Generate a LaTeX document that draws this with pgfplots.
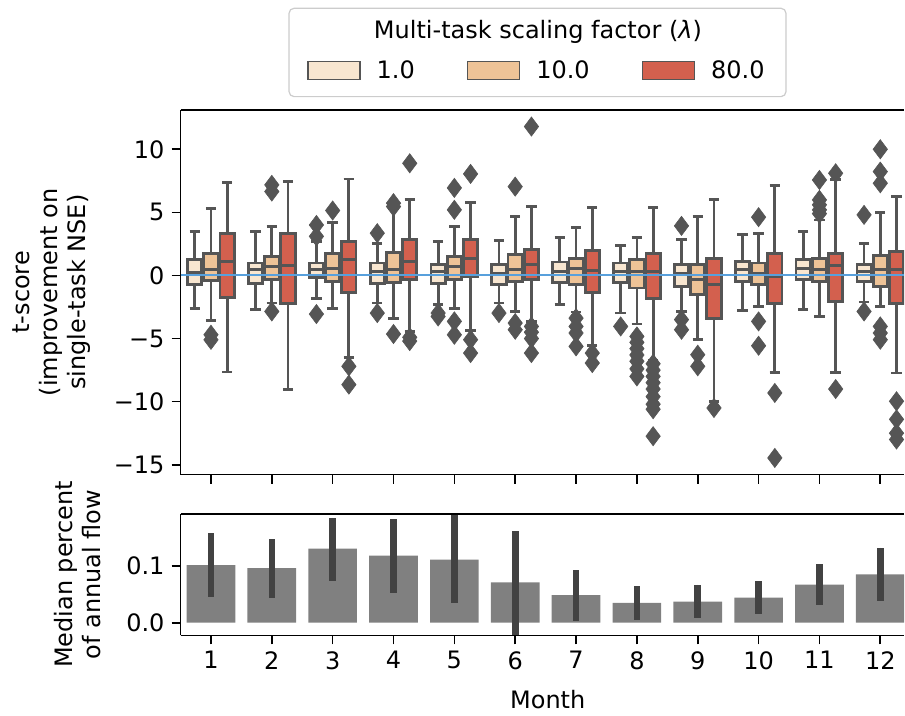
\documentclass[border=0pt]{standalone}
\usepackage{fontspec}
\setmainfont{DejaVu Sans}
\usepackage{pgfplots}
\usepackage{pgfplotstable}
\pgfplotsset{compat=1.18}
\usepgfplotslibrary{statistics}
\definecolor{ca}{HTML}{F8E6D0}
\definecolor{cb}{HTML}{EEC397}
\definecolor{cc}{HTML}{D3604E}
\definecolor{bxgray}{HTML}{555555}
\definecolor{zeroblue}{RGB}{88,160,220}
\definecolor{barg}{HTML}{808080}
\definecolor{errg}{HTML}{424242}
\pgfplotsset{
  bxstyle/.style={draw=bxgray, line width=1.4pt, mark=diamond*, mark size=4.8pt,
    mark options={fill=bxgray, draw=bxgray, line width=0.3pt, solid},
    boxplot/draw direction=y,
    boxplot/box extend=0.235, boxplot/whisker extend=0.17},
  common/.style={scale only axis, width=362.15pt, xmin=0.5, xmax=12.393,
    axis y line*=left, axis x line*=bottom,
    axis line style={line width=0.8pt, -}, tick style={line width=0.8pt, black},
    major tick length=4.5pt, tick align=outside, xtick pos=bottom, ytick pos=left,
    xtick={1,2,3,4,5,6,7,8,9,10,11,12}, clip mode=individual}
}
\newcommand{\bx}[8]{\addplot[forget plot, bxstyle, fill=#7, boxplot prepared={draw position=#1, lower whisker=#2, lower quartile=#3, median=#4, upper quartile=#5, upper whisker=#6}] coordinates {#8};}
\pgfplotstableread{
m v ep em
1 0.101 0.056 0.055
2 0.096 0.051 0.052
3 0.130 0.054 0.056
4 0.118 0.064 0.065
5 0.111 0.080 0.077
6 0.071 0.090 0.0933
7 0.0485 0.0435 0.045
8 0.035 0.029 0.030
9 0.037 0.030 0.0294
10 0.044 0.0285 0.029
11 0.067 0.036 0.035
12 0.085 0.047 0.046
}\flowdata
\begin{document}
\begin{tikzpicture}[font=\fontsize{12}{14}\selectfont]
\path (0,0) rectangle (452.5pt,357.5pt);
\draw[draw=black!20, line width=0.6pt, fill=white, rounded corners=2.5pt] (144.65pt,309.15pt) rectangle (393.35pt,353.35pt);
\node[anchor=base] at (269.2pt,338.35pt) {Multi-task scaling factor ({\itshape λ})};
\begin{axis}[common, at={(90.35pt,120pt)}, anchor=south west, height=182.5pt,
  ymin=-15.78, ymax=13.12,
  ytick={-15,-10,-5,0,5,10}, yticklabels={−15,−10,−5,0,5,10},
  xticklabels={},
  ylabel={t-score\\(improvement on\\single-task NSE)},
  ylabel style={at={(axis description cs:-0.1785,0.5)}, anchor=center, align=center},
  legend columns=3,
  legend style={at={(0.4938,1.1077)}, anchor=center, draw=none, fill=none,
    /tikz/every odd column/.append style={column sep=6pt},
    /tikz/every even column/.append style={column sep=24pt}},
  legend cell align=left]
\addlegendimage{legend image code/.code={\draw[fill=ca,draw=bxgray,line width=0.8pt] (0pt,-4.5pt) rectangle (26pt,4.5pt);}}
\addlegendentry{1.0}
\addlegendimage{legend image code/.code={\draw[fill=cb,draw=bxgray,line width=0.8pt] (0pt,-4.5pt) rectangle (26pt,4.5pt);}}
\addlegendentry{10.0}
\addlegendimage{legend image code/.code={\draw[fill=cc,draw=bxgray,line width=0.8pt] (0pt,-4.5pt) rectangle (26pt,4.5pt);}}
\addlegendentry{80.0}
% month 1
\bx{0.7333}{-2.59}{-0.69}{0.24}{1.24}{3.48}{ca}{}
\bx{1}{-3.59}{-0.42}{0.45}{1.77}{5.28}{cb}{(0,-4.7)(0,-5.1)}
\bx{1.2667}{-7.65}{-1.72}{1.11}{3.30}{7.39}{cc}{}
% month 2
\bx{1.7333}{-2.72}{-0.61}{0.45}{0.98}{3.48}{ca}{}
\bx{2}{-2.19}{-0.34}{0.71}{1.50}{3.88}{cb}{(0,7.18)(0,6.65)(0,-2.85)}
\bx{2.2667}{-9.05}{-2.24}{0.77}{3.30}{7.44}{cc}{}
% month 3
\bx{2.7333}{-1.85}{-0.16}{0.45}{0.98}{2.69}{ca}{(0,3.1)(0,4.0)(0,-3.06)}
\bx{3}{-2.59}{-0.47}{0.58}{1.77}{4.22}{cb}{(0,5.15)}
\bx{3.2667}{-6.49}{-1.32}{1.24}{2.69}{7.65}{cc}{(0,-7.2)(0,-8.65)}
% month 4
\bx{3.7333}{-2.19}{-0.61}{0.32}{0.98}{2.56}{ca}{(0,3.35)(0,-2.98)}
\bx{4}{-3.43}{-0.53}{0.45}{1.82}{5.33}{cb}{(0,5.73)(0,5.46)(0,-4.64)}
\bx{4.2667}{-4.43}{-0.34}{1.11}{2.82}{5.99}{cc}{(0,8.89)(0,-4.9)(0,-5.2)}
% month 5
\bx{4.7333}{-2.32}{-0.61}{0.32}{0.84}{2.69}{ca}{(0,-2.98)(0,-3.25)}
\bx{5}{-2.59}{-0.34}{0.71}{1.50}{3.88}{cb}{(0,6.94)(0,5.2)(0,-3.64)(0,-4.7)}
\bx{5.2667}{-4.38}{-0.08}{1.32}{2.88}{5.8}{cc}{(0,8.05)(0,-5.09)(0,-6.15)}
% month 6
\bx{5.7333}{-2.19}{-0.69}{0.18}{0.84}{2.77}{ca}{(0,-2.98)}
\bx{6}{-2.85}{-0.47}{0.45}{1.64}{4.67}{cb}{(0,7.04)(0,-3.77)(0,-4.3)}
\bx{6.2667}{-3.64}{-0.29}{0.84}{2.08}{5.46}{cc}{(0,11.8)(0,-4.04)(0,-4.5)(0,-5.0)(0,-6.15)}
% month 7
\bx{6.7333}{-2.32}{-0.53}{0.32}{1.06}{3.0}{ca}{}
\bx{7}{-2.9}{-0.69}{0.58}{1.37}{3.8}{cb}{(0,-3.38)(0,-4.04)(0,-4.56)(0,-5.62)}
\bx{7.2667}{-5.57}{-1.32}{0.40}{1.95}{5.38}{cc}{(0,-6.15)(0,-6.94)}
% month 8
\bx{7.7333}{-2.98}{-0.53}{0.32}{0.98}{2.37}{ca}{(0,-4.04)}
\bx{8}{-3.85}{-1.0}{0.32}{1.24}{3.0}{cb}{(0,-4.83)(0,-5.3)(0,-5.8)(0,-6.3)(0,-6.8)(0,-7.4)(0,-8.0)}
\bx{8.2667}{-6.75}{-1.85}{0.32}{1.77}{5.41}{cc}{(0,-7.0)(0,-7.5)(0,-8.0)(0,-8.5)(0,-9.0)(0,-9.6)(0,-10.2)(0,-10.6)(0,-12.74)}
% month 9
\bx{8.7333}{-2.85}{-0.87}{0.13}{0.84}{2.82}{ca}{(0,3.93)(0,-3.5)(0,-4.3)}
\bx{9}{-5.09}{-1.53}{-0.34}{0.90}{4.67}{cb}{(0,-6.28)(0,-7.2)}
\bx{9.2667}{-9.97}{-3.38}{-0.74}{1.37}{5.99}{cc}{(0,-10.5)}
% month 10
\bx{9.7333}{-2.77}{-0.47}{0.45}{1.11}{3.22}{ca}{}
\bx{10}{-2.45}{-0.69}{0.18}{0.98}{3.35}{cb}{(0,4.62)(0,-3.64)(0,-5.57)}
\bx{10.2667}{-7.68}{-2.24}{-0.08}{1.72}{7.1}{cc}{(0,-9.31)(0,-14.46)}
% month 11
\bx{10.7333}{-2.72}{-0.34}{0.58}{1.24}{3.48}{ca}{}
\bx{11}{-3.25}{-0.47}{0.45}{1.37}{4.4}{cb}{(0,7.57)(0,5.99)(0,5.6)(0,5.2)(0,4.9)}
\bx{11.2667}{-7.68}{-2.06}{0.79}{1.77}{7.6}{cc}{(0,8.1)(0,-9.0)}
% month 12
\bx{11.7333}{-2.11}{-0.47}{0.32}{0.9}{2.51}{ca}{(0,4.8)(0,-2.85)}
\bx{12}{-2.45}{-0.87}{0.45}{1.58}{4.99}{cb}{(0,10.0)(0,8.23)(0,7.31)(0,-4.04)(0,-4.56)(0,-5.09)}
\bx{12.2667}{-7.73}{-2.24}{0.45}{1.9}{6.25}{cc}{(0,-9.97)(0,-11.4)(0,-12.5)(0,-13.0)}
\addplot[forget plot, zeroblue, line width=1pt] coordinates {(0.5,0) (12.393,0)};
\draw[line width=0.8pt, black] (rel axis cs:0,1) -- (rel axis cs:1,1);
\end{axis}
\begin{axis}[common, at={(90.35pt,39.5pt)}, anchor=south west, height=60.85pt,
  ymin=-0.0223, ymax=0.1912,
  ytick={0,0.1}, yticklabels={0.0,0.1},
  xticklabels={1,2,3,4,5,6,7,8,9,10,11,12},
  xlabel={Month},
  xlabel style={at={(axis description cs:0.5074,-0.526)}, anchor=center},
  ylabel={Median percent\\of annual flow},
  ylabel style={at={(axis description cs:-0.1425,0.5)}, anchor=center, align=center}]
\addplot[ybar, bar width=0.8, fill=barg, draw=none,
  error bars/.cd, y dir=both, y explicit, error mark=none,
  error bar style={line width=3.3pt, draw=errg}]
  table[x=m, y=v, y error plus=ep, y error minus=em] {\flowdata};
\draw[line width=0.8pt, black] (rel axis cs:0,1) -- (rel axis cs:1,1);
\end{axis}
\end{tikzpicture}
\end{document}
